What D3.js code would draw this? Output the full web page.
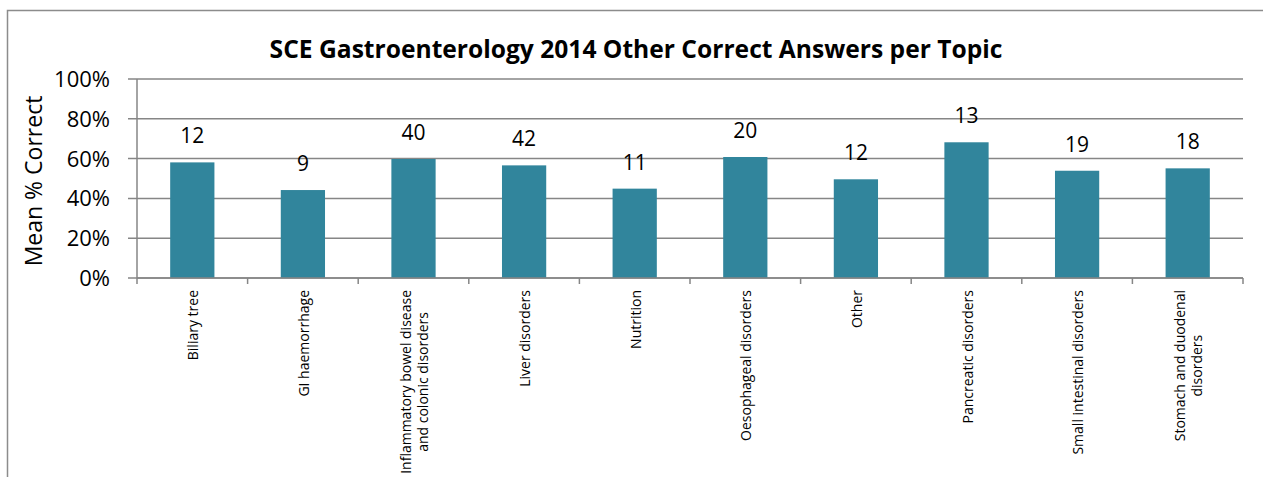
<!DOCTYPE html>
<html><head><meta charset="utf-8">
<script src="https://cdn.jsdelivr.net/npm/d3@7"></script>
<style>body{margin:0;background:#fff}svg{display:block}text{font-family:"Open Sans",sans-serif}</style>
</head><body><svg id="c" width="1263" height="477"></svg>
<script>
const categories = ["Biliary tree","GI haemorrhage","Inflammatory bowel disease\nand colonic disorders","Liver disorders","Nutrition","Oesophageal disorders","Other","Pancreatic disorders","Small intestinal disorders","Stomach and duodenal\ndisorders"];
const meanCorrect = [0.581, 0.442, 0.598, 0.566, 0.449, 0.608, 0.496, 0.682, 0.539, 0.551];
const counts = [12, 9, 40, 42, 11, 20, 12, 13, 19, 18];
const yTicks = [0, 0.2, 0.4, 0.6, 0.8, 1.0];
const title = "SCE Gastroenterology 2014 Other Correct Answers per Topic";
const yTitle = "Mean % Correct";

const svg = d3.select("#c");
const L = 137, R = 1243, T = 79, B = 278;
const gridCol = "#868686";

svg.append("rect").attr("x",7.5).attr("y",10.5).attr("width",1300).attr("height",600)
  .attr("fill","#fff").attr("stroke","#8c8c8c").attr("stroke-width",1.5);

const x = d3.scaleBand().domain(categories).range([L, R]).paddingInner(0).paddingOuter(0);
const y = d3.scaleLinear().domain([0, 1]).range([B, T]);

// gridlines + left ticks
svg.append("g").selectAll("line").data(yTicks).join("line")
  .attr("x1", L - 9).attr("x2", R).attr("y1", d => y(d)).attr("y2", d => y(d))
  .attr("stroke", gridCol).attr("stroke-width", 1.5);
// y axis line
svg.append("line").attr("x1",L).attr("x2",L).attr("y1",T).attr("y2",B).attr("stroke",gridCol).attr("stroke-width",1.5);
// y tick labels
svg.append("g").selectAll("text").data(yTicks).join("text")
  .attr("x", 110).attr("y", d => y(d)).attr("dy","0.36em").attr("text-anchor","end")
  .attr("font-size", 22).attr("fill","#000").text(d3.format(".0%"));

// bars
const bw = x.bandwidth() * 0.4;
svg.append("g").selectAll("rect").data(categories).join("rect")
  .attr("x", d => x(d) + x.bandwidth()/2 - bw/2).attr("width", bw)
  .attr("y", (d,i) => y(meanCorrect[i])).attr("height", (d,i) => B - y(meanCorrect[i]))
  .attr("fill", "#31859c");

// bottom axis
svg.append("line").attr("x1",L).attr("x2",R).attr("y1",B).attr("y2",B).attr("stroke",gridCol).attr("stroke-width",1.5);
const bt = categories.map(c => x(c)).concat([R]);
svg.append("g").selectAll("line").data(bt).join("line")
  .attr("x1", d => d).attr("x2", d => d).attr("y1", B).attr("y2", B + 6)
  .attr("stroke", gridCol).attr("stroke-width", 1.5);

// data labels
svg.append("g").selectAll("text").data(categories).join("text")
  .attr("x", d => x(d) + x.bandwidth()/2).attr("y", (d,i) => y(meanCorrect[i]) - 19)
  .attr("text-anchor","middle").attr("font-size", 21).attr("fill","#000")
  .text((d,i) => counts[i]);

// category labels
const catFs = 14, lh = 17.3, topY = 290;
categories.forEach(c => {
  const lines = c.split("\n");
  const cx = x(c) + x.bandwidth()/2 + 1;
  const g = svg.append("g");
  const texts = lines.map((ln, j) => g.append("text").attr("font-size", catFs).attr("fill","#000").text(ln));
  const maxW = d3.max(texts, t => t.node().getComputedTextLength());
  const n = lines.length;
  texts.forEach((t, j) => {
    const bx = cx - (n-1)*lh/2 + j*lh + catFs*0.36;
    const by = topY + maxW/2;
    t.attr("text-anchor","middle").attr("transform", `translate(${bx},${by}) rotate(-90)`);
  });
});

// titles
svg.append("text").attr("x", 636).attr("y", 58).attr("text-anchor","middle")
  .attr("font-size", 24.6).attr("font-weight","bold").attr("fill","#000").text(title);
svg.append("text").attr("transform", `translate(42,181) rotate(-90)`).attr("text-anchor","middle")
  .attr("font-size", 23).attr("fill","#000").text(yTitle);
</script></body></html>
